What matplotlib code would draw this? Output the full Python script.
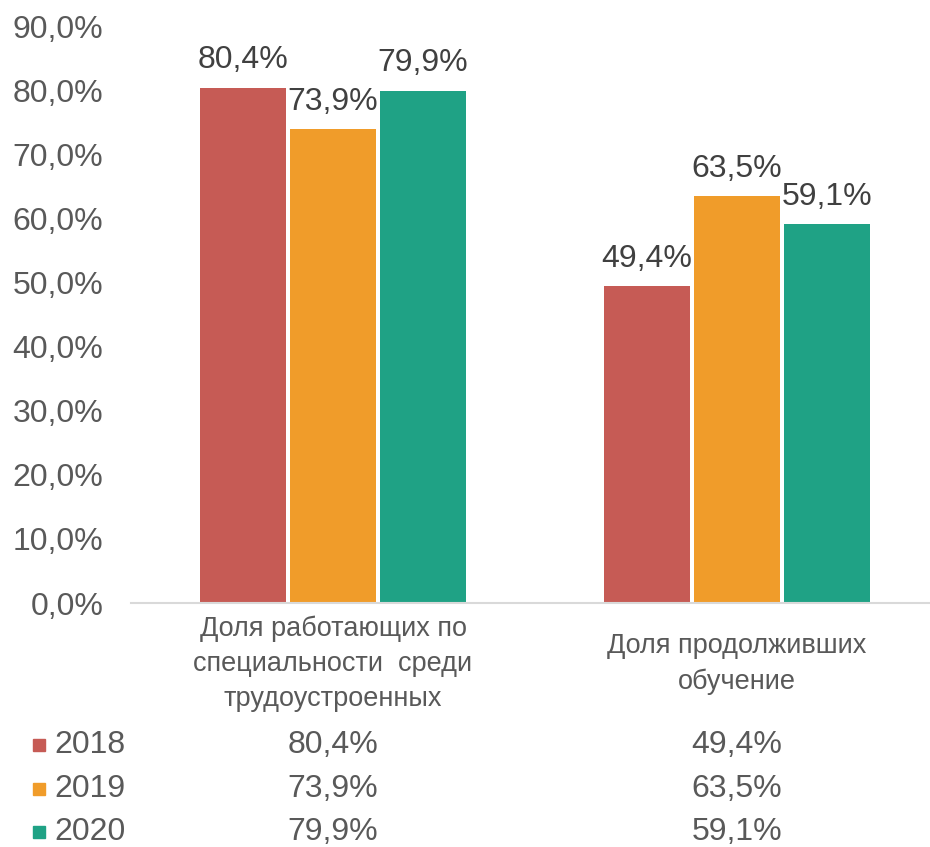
import matplotlib
matplotlib.use("Agg")
import matplotlib.pyplot as plt
import matplotlib.transforms as mtrans
import numpy as np

plt.rcParams["font.family"] = ["Liberation Sans", "DejaVu Sans"]

categories = ["Доля работающих по\nспециальности  среди\nтрудоустроенных",
              "Доля продолживших\nобучение"]
years = ["2018", "2019", "2020"]
vals_2018 = [80.4, 49.4]
vals_2019 = [73.9, 63.5]
vals_2020 = [79.9, 59.1]
yticks = [0, 10, 20, 30, 40, 50, 60, 70, 80, 90]

RED = "#C65B55"; ORANGE = "#F09C2A"; TEAL = "#1FA285"; GREY = "#595959"
colors = [RED, ORANGE, TEAL]
series = [vals_2018, vals_2019, vals_2020]
FS = 23

fig = plt.figure(figsize=(9.3, 8.47), dpi=100)
ax = fig.add_axes([131 / 930, 0.288, 808 / 930, 0.681])

x = np.arange(len(categories))
w = 0.213
step = 0.223
for i, (vals, c) in enumerate(zip(series, colors)):
    xs = x + (i - 1) * step
    ax.bar(xs, vals, width=w, color=c, zorder=2)
    for xi, v in zip(xs, vals):
        ax.annotate(f"{v:.1f}%".replace(".", ","), (xi, v), xytext=(0, 9),
                    textcoords="offset points", ha="center", va="bottom",
                    fontsize=FS, color="#404040")

ax.set_xlim(-0.5, 1.5)
ax.set_ylim(0, 90)
ax.set_yticks(yticks)
ax.set_yticklabels([f"{t:.1f}%".replace(".", ",") for t in yticks], fontsize=FS, color=GREY)
ax.tick_params(axis="y", length=0, pad=20)
ax.set_xticks([])
for s in ["top", "right", "left"]:
    ax.spines[s].set_visible(False)
ax.spines["bottom"].set_color("#D9D9D9")
ax.spines["bottom"].set_linewidth(1.5)

# category labels
tr = mtrans.blended_transform_factory(ax.transData, fig.transFigure)
ax.text(0, 1 - 664 / 847, categories[0], transform=tr, ha="center", va="center",
        fontsize=19.5, color=GREY, linespacing=1.45)
ax.text(1, 1 - 664 / 847, categories[1], transform=tr, ha="center", va="center",
        fontsize=19.5, color=GREY, linespacing=1.45)

# data table
row_y = [745, 789, 832]
for yr, vals, c, ry in zip(years, series, colors, row_y):
    fy = 1 - ry / 847
    fig.patches.append(plt.Rectangle((33 / 930, fy - 6 / 847), 12 / 930, 12 / 847,
                                     transform=fig.transFigure, color=c))
    fig.text(54 / 930, fy, yr, ha="left", va="center", fontsize=FS, color=GREY)
    for xi, v in zip(x, vals):
        ax.text(xi, fy, f"{v:.1f}%".replace(".", ","), transform=tr, ha="center",
                va="center", fontsize=FS, color=GREY)

fig.savefig("out.png", dpi=100)
